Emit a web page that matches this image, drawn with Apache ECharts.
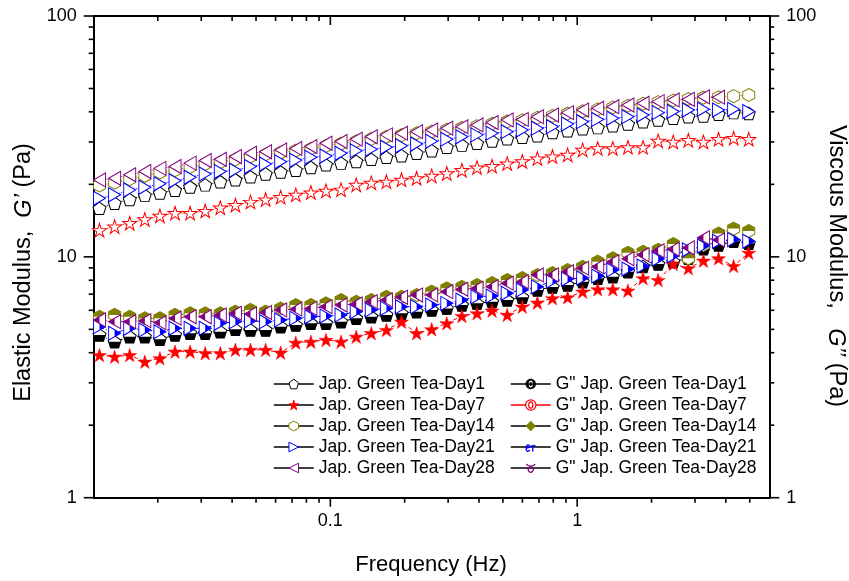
<!DOCTYPE html>
<html><head><meta charset="utf-8">
<script src="https://cdn.jsdelivr.net/npm/echarts@6/dist/echarts.min.js"></script>
<style>html,body{margin:0;padding:0;background:#fff}#c{width:849px;height:581px}</style>
</head><body><div id="c"></div>
<script>
// ---------------- data ----------------
const freq = [0.01161,0.01337,0.01539,0.01772,0.0204,0.02349,0.02704,0.03112,0.03583,0.04125,0.04749,0.05467,0.06293,0.07245,0.08341,0.09603,0.1105,0.1273,0.1465,0.1687,0.1942,0.2236,0.2574,0.2963,0.3411,0.3927,0.4521,0.5205,0.5992,0.6898,0.7941,0.9142,1.052,1.211,1.394,1.605,1.848,2.128,2.449,2.82,3.246,3.737,4.302,4.953];

const seriesNames = ['Jap. Green Tea-Day1','Jap. Green Tea-Day7','Jap. Green Tea-Day14','Jap. Green Tea-Day21','Jap. Green Tea-Day28'];
const seriesNames2 = ['G" Jap. Green Tea-Day1','G" Jap. Green Tea-Day7','G" Jap. Green Tea-Day14','G" Jap. Green Tea-Day21','G" Jap. Green Tea-Day28'];

// G' (elastic modulus)
const gp_day1  = [15.9,16.7,17.3,18.0,18.4,18.9,19.5,19.9,20.5,20.9,21.5,22.1,22.5,22.9,23.5,24.1,24.5,24.9,25.4,25.9,26.3,26.9,27.6,28.5,29.1,29.6,30.3,30.9,31.4,31.8,32.8,33.4,34.0,34.4,35.0,35.6,36.4,37.0,37.6,38.2,38.4,39.1,39.7,39.4];
const gp_day7  = [12.9,13.35,13.8,14.3,14.8,15.2,15.2,15.5,16.0,16.4,16.9,17.3,17.7,18.1,18.5,18.8,19.0,19.9,20.3,20.5,20.9,21.2,21.7,22.2,22.9,23.5,23.8,24.4,24.9,25.6,26.1,26.5,27.8,28.2,28.2,28.5,28.5,30.3,30.0,30.5,30.0,30.8,31.1,30.8];
const gp_day14 = [19.8,20.3,21.0,21.7,22.4,22.9,23.6,24.3,24.7,25.4,26.1,26.6,27.1,27.6,28.1,28.9,29.5,30.2,30.9,31.5,32.0,32.6,33.1,33.7,34.3,34.9,35.7,36.5,36.9,37.8,38.5,39.3,40.2,41.0,41.7,42.4,43.2,43.9,44.6,45.2,45.8,46.0,46.5,47.0];
const gp_day21 = [17.5,18.1,18.95,19.45,20.1,20.7,21.4,22.1,22.6,22.9,23.7,24.3,24.8,25.2,25.9,26.2,26.9,27.6,28.0,28.5,28.9,29.4,30.2,30.8,31.5,32.1,32.6,33.1,33.6,34.2,34.7,35.6,36.4,37.2,37.6,38.2,38.8,39.7,40.1,40.7,41.0,40.7,41.0,40.1];
const gp_day28 = [20.85,21.2,21.9,22.6,23.3,23.7,24.5,25.1,25.4,26.1,26.9,27.3,27.8,28.2,28.7,29.6,30.1,30.8,31.5,32.1,32.6,33.1,33.6,34.2,34.7,35.3,36.1,37.0,37.2,38.2,38.8,39.7,40.7,41.4,42.0,42.7,43.4,44.1,44.8,45.1,46.2,46.0];

// G'' (viscous modulus)
const gpp_day1  = [4.74,4.44,4.66,4.66,4.55,4.74,4.82,4.82,4.89,5.00,4.97,4.97,5.13,5.21,5.30,5.30,5.38,5.56,5.64,5.74,5.83,5.92,6.02,6.11,6.31,6.41,6.51,6.62,6.79,7.29,7.50,7.64,7.88,8.15,8.27,8.68,9.12,9.34,9.55,9.86,10.8,11.2,11.6,11.4];
const gpp_day7  = [3.91,3.85,3.91,3.67,3.79,4.04,4.04,3.98,3.98,4.11,4.11,4.11,4.00,4.40,4.44,4.52,4.44,4.66,4.82,4.97,5.38,4.82,5.00,5.30,5.68,5.83,5.98,5.74,6.21,6.45,6.73,6.79,7.17,7.33,7.33,7.24,8.15,8.01,9.34,8.97,9.64,9.86,9.16,10.4];
const gpp_day14 = [5.64,5.74,5.64,5.56,5.56,5.74,5.83,5.83,5.83,5.92,6.02,5.92,6.11,6.31,6.31,6.41,6.62,6.51,6.62,6.83,6.83,6.94,7.17,7.40,7.50,7.64,7.79,8.01,8.17,8.41,8.57,8.82,9.10,9.55,9.86,10.4,10.5,10.7,11.3,9.86,11.2,12.5,13.1,12.8];
const gpp_day21 = [5.13,4.82,5.05,4.97,4.89,5.05,5.05,5.05,5.30,5.38,5.43,5.38,5.47,5.56,5.64,5.68,5.74,5.92,6.02,6.11,6.21,6.21,6.31,6.41,6.62,6.83,6.88,7.06,7.29,7.52,7.94,8.09,8.17,8.33,8.82,8.90,9.16,9.80,10.1,10.7,11.1,11.6,11.8,11.6];
const gpp_day28 = [5.47,5.38,5.38,5.43,5.33,5.56,5.64,5.64,5.74,5.83,5.79,5.87,6.02,6.06,6.11,6.21,6.31,6.37,6.51,6.62,6.79,6.94,6.95,7.17,7.33,7.40,7.52,7.77,7.88,8.41,8.41,8.68,8.97,9.10,9.55,9.81,10.2,10.6,10.75,10.9,12.0,11.75];

// axes / ticks
const xMajorTicks = [0.1, 1];
const xTickLabels = ['0.1', '1'];
const xMinorTicks = [0.02,0.03,0.04,0.05,0.06,0.07,0.08,0.09,0.2,0.3,0.4,0.5,0.6,0.7,0.8,0.9,2,3,4,5];
const yMajorTicks = [1, 10, 100];
const yTickLabels = ['1', '10', '100'];
const yMinorTicks = [2,3,4,5,6,7,8,9,20,30,40,50,60,70,80,90];
const X_MIN = 0.011, X_MAX = 6, Y_MIN = 1, Y_MAX = 100;

// ---------------- styling ----------------
const FONT = '"Liberation Sans", Arial, Helvetica, sans-serif';
const COLORS = ['#000000', '#ff0000', '#808000', '#0000ff', '#800080'];

const PENT = 'M10,0L19.51,6.91L15.88,18.09L4.12,18.09L0.49,6.91Z';
const PENT_HALF = 'M10,0M0.49,6.91M19.51,6.91M1.183,9.045L18.817,9.045L15.88,18.09L4.12,18.09Z';
const STAR = 'M10,0L12.245,6.91L19.51,6.91L13.633,11.18L15.88,18.09L10,13.82L4.12,18.09L6.367,11.18L0.49,6.91L7.755,6.91Z';
const HEX = 'M10,0L18.66,5L18.66,15L10,20L1.34,15L1.34,5Z';
const HEX_HALF = 'M10,20M1.34,15M18.66,15M10,0L18.66,5L18.66,10L1.34,10L1.34,5Z';
const TRI_R = 'M0,0L17.32,10L0,20Z';
const TRI_R_HALF = 'M0,0M0,20M8.66,5L17.32,10L8.66,15Z';
const TRI_L = 'M17.32,0L0,10L17.32,20Z';
const TRI_L_HALF = 'M17.32,0M17.32,20M0,10L8.66,5L8.66,15Z';

function ell(cx, cy, rx, ry, rev) {
  const k = 0.5523, kx = rx * k, ky = ry * k;
  if (!rev) {
    return `M${cx+rx},${cy}C${cx+rx},${cy+ky} ${cx+kx},${cy+ry} ${cx},${cy+ry}C${cx-kx},${cy+ry} ${cx-rx},${cy+ky} ${cx-rx},${cy}C${cx-rx},${cy-ky} ${cx-kx},${cy-ry} ${cx},${cy-ry}C${cx+kx},${cy-ry} ${cx+rx},${cy-ky} ${cx+rx},${cy}Z`;
  }
  return `M${cx+rx},${cy}C${cx+rx},${cy-ky} ${cx+kx},${cy-ry} ${cx},${cy-ry}C${cx-kx},${cy-ry} ${cx-rx},${cy-ky} ${cx-rx},${cy}C${cx-rx},${cy+ky} ${cx-kx},${cy+ry} ${cx},${cy+ry}C${cx+kx},${cy+ry} ${cx+rx},${cy+ky} ${cx+rx},${cy}Z`;
}
// legend glyphs for the G'' entries
const LG1 = ell(10,10,10,10,false) + ell(10,10,4.2,6.6,true) + ell(10,10,2.2,4.4,false);
const LG7 = ell(10,10,10,10,false) + ell(10,10,4,6.2,false);
const LG14 = 'M10,3L20,10L10,17L0,10Z';
const LG21 = 'M0,3M20,17M1,12L8,10C8,6 2,6 1,11C0,16 5,17 8,14M10,9L19,8M14.5,8.5L13.5,16';
const LG28 = 'M0,0M20,20M5,13C5,10 8,8.5 10,8.5C12,8.5 15,10 15,13C15,16 12,18.5 10,18.5C8,18.5 5,16 5,13ZM2,2C4,8 16,8 18,2';

function pts(vals) { return vals.map((v, i) => [freq[i], v]); }

const gpData = [gp_day1, gp_day7, gp_day14, gp_day21, gp_day28];
const gppData = [gpp_day1, gpp_day7, gpp_day14, gpp_day21, gpp_day28];
const fullShapes = [PENT, STAR, HEX, TRI_R, TRI_L];
const halfShapes = [PENT_HALF, null, HEX_HALF, TRI_R_HALF, TRI_L_HALF];
const sizes = [[13,12.5],[14,13.5],[12,13],[12,14],[12,14]];
const legendGlyphs2 = [LG1, LG7, LG14, LG21, LG28];

const series = [];
// G' series: open symbols
for (let i = 0; i < 5; i++) {
  series.push({
    type: 'line', name: seriesNames[i], data: pts(gpData[i]),
    symbol: 'path://' + fullShapes[i], symbolSize: sizes[i],
    itemStyle: { color: '#ffffff', borderColor: COLORS[i], borderWidth: 1 },
    lineStyle: { color: COLORS[i], width: 1, type: 'dotted' },
    silent: true, animation: false
  });
}
// G'' series: half-filled symbols, dash-dot lines
for (let i = 0; i < 5; i++) {
  // legend proxy (no data)
  series.push({
    type: 'line', name: seriesNames2[i], data: [],
    symbol: 'path://' + legendGlyphs2[i], symbolSize: 10,
    silent: true, animation: false
  });
  if (halfShapes[i]) {
    series.push({
      type: 'line', name: seriesNames2[i], data: pts(gppData[i]),
      symbol: 'path://' + fullShapes[i], symbolSize: sizes[i],
      itemStyle: { color: '#ffffff', borderColor: COLORS[i], borderWidth: 1 },
      lineStyle: { color: COLORS[i], width: 1, type: [5, 2, 1, 2] },
      silent: true, animation: false
    });
    series.push({
      type: 'line', name: seriesNames2[i], data: pts(gppData[i]),
      symbol: 'path://' + halfShapes[i], symbolSize: sizes[i],
      itemStyle: { color: COLORS[i], borderWidth: 0 },
      lineStyle: { opacity: 0, width: 0 },
      silent: true, animation: false
    });
  } else {
    series.push({
      type: 'line', name: seriesNames2[i], data: pts(gppData[i]),
      symbol: 'path://' + fullShapes[i], symbolSize: sizes[i],
      itemStyle: { color: COLORS[i], borderColor: COLORS[i], borderWidth: 0.5 },
      lineStyle: { color: COLORS[i], width: 1, type: [4, 3] },
      silent: true, animation: false
    });
  }
}

// tick marks drawn through the axes' own scales
const tickData = [];
xMajorTicks.forEach(v => { tickData.push([v, Y_MIN, 0, 9]); tickData.push([v, Y_MAX, 1, 9]); });
xMinorTicks.forEach(v => { tickData.push([v, Y_MIN, 0, 5]); tickData.push([v, Y_MAX, 1, 5]); });
yMajorTicks.forEach(v => { tickData.push([X_MIN, v, 2, 10]); tickData.push([X_MAX, v, 3, 10]); });
yMinorTicks.forEach(v => { tickData.push([X_MIN, v, 2, 5]); tickData.push([X_MAX, v, 3, 5]); });
series.push({
  type: 'custom', data: tickData, dimensions: ['x', 'y', 'd', 'l'], encode: { x: 0, y: 1 },
  clip: false, silent: true, z: 10, animation: false,
  renderItem: function (params, api) {
    const p = api.coord([api.value(0), api.value(1)]);
    const d = api.value(2), l = api.value(3);
    let x2 = p[0], y2 = p[1];
    if (d === 0 || d === 1) y2 += l; else if (d === 2) x2 -= l; else x2 += l;
    return { type: 'line', shape: { x1: p[0], y1: p[1], x2: x2, y2: y2 }, style: { stroke: '#000', lineWidth: 1.6 } };
  }
});

function labelFor(ticks, labels, v) {
  for (let i = 0; i < ticks.length; i++) if (Math.abs(Math.log10(v) - Math.log10(ticks[i])) < 1e-6) return labels[i];
  return '';
}

const axisLineStyle = { show: true, onZero: false, lineStyle: { color: '#000', width: 2 } };
const labelStyle = { color: '#000', fontSize: 18, fontFamily: FONT };

const leftLegendData = seriesNames.map((n, i) => ({
  name: n,
  itemStyle: i === 1 ? { color: COLORS[i], borderColor: COLORS[i], borderWidth: 1 } : { color: '#ffffff', borderColor: COLORS[i], borderWidth: 1 },
  lineStyle: { color: '#000', width: 1.5, type: 'solid' }
}));
const rightStyles = [
  { color: '#000', borderColor: '#000', borderWidth: 0 },
  { color: '#ffffff', borderColor: '#ff0000', borderWidth: 1.2 },
  { color: '#808000', borderColor: '#808000', borderWidth: 0 },
  { color: 'rgba(0,0,0,0)', borderColor: '#0000ff', borderWidth: 1.3 },
  { color: 'rgba(0,0,0,0)', borderColor: '#800080', borderWidth: 1.3 }
];
const rightLegendData = seriesNames2.map((n, i) => ({
  name: n, itemStyle: rightStyles[i],
  lineStyle: { color: i === 1 ? '#ff0000' : '#000', width: 1.5, type: 'solid' }
}));
const legendCommon = {
  orient: 'vertical', padding: 0, itemGap: 0, itemWidth: 40,
  selectedMode: false, top: 373.5,
  textStyle: { fontSize: 17.5, fontFamily: FONT, color: '#000', lineHeight: 21 }
};

const option = {
  animation: false,
  backgroundColor: '#ffffff',
  grid: { left: 93.7, right: 79.7, top: 16, bottom: 83.3, containLabel: false, outerBoundsMode: 'none' },
  xAxis: [
    { type: 'log', logBase: 10, min: X_MIN, max: X_MAX, position: 'bottom',
      axisLine: axisLineStyle, axisTick: { show: false }, minorTick: { show: false }, splitLine: { show: false },
      axisLabel: Object.assign({ margin: 14, showMinLabel: false, showMaxLabel: false,
        formatter: v => labelFor(xMajorTicks, xTickLabels, v) }, labelStyle) },
    { type: 'log', logBase: 10, min: X_MIN, max: X_MAX, position: 'top',
      axisLine: axisLineStyle, axisTick: { show: false }, splitLine: { show: false }, axisLabel: { show: false } }
  ],
  yAxis: [
    { type: 'log', logBase: 10, min: Y_MIN, max: Y_MAX, position: 'left',
      axisLine: axisLineStyle, axisTick: { show: false }, splitLine: { show: false },
      axisLabel: Object.assign({ margin: 17, formatter: v => labelFor(yMajorTicks, yTickLabels, v) }, labelStyle) },
    { type: 'log', logBase: 10, min: Y_MIN, max: Y_MAX, position: 'right',
      axisLine: axisLineStyle, axisTick: { show: false }, splitLine: { show: false },
      axisLabel: Object.assign({ margin: 17, formatter: v => labelFor(yMajorTicks, yTickLabels, v) }, labelStyle) }
  ],
  legend: [
    Object.assign({ left: 273, itemHeight: 12, data: leftLegendData }, legendCommon),
    Object.assign({ left: 510, itemHeight: 13, data: rightLegendData }, legendCommon)
  ],
  graphic: [
    { type: 'text', x: 24, y: 272.5, rotation: Math.PI / 2, silent: true,
      style: { text: '{n|Elastic Modulus,  }{i|G\u2019}{n| (Pa)}', align: 'center', verticalAlign: 'middle', fill: '#000',
        rich: { n: { fontSize: 23.5, fontFamily: FONT, fill: '#000' }, i: { fontSize: 23.5, fontFamily: FONT, fontStyle: 'italic', fill: '#000' } } } },
    { type: 'text', x: 836, y: 266, rotation: -Math.PI / 2, silent: true,
      style: { text: '{n|Viscous Modulus,   }{i|G\u2019\u2019}{n| (Pa)}', align: 'center', verticalAlign: 'middle', fill: '#000',
        rich: { n: { fontSize: 23.5, fontFamily: FONT, fill: '#000' }, i: { fontSize: 23.5, fontFamily: FONT, fontStyle: 'italic', fill: '#000' } } } },
    { type: 'text', x: 431, y: 565, silent: true,
      style: { text: 'Frequency (Hz)', align: 'center', verticalAlign: 'middle', fill: '#000', fontSize: 22, fontFamily: FONT } }
  ],
  series: series
};

const chart = echarts.init(document.getElementById('c'), null, { renderer: 'canvas' });
chart.setOption(option);
</script>
</body></html>
